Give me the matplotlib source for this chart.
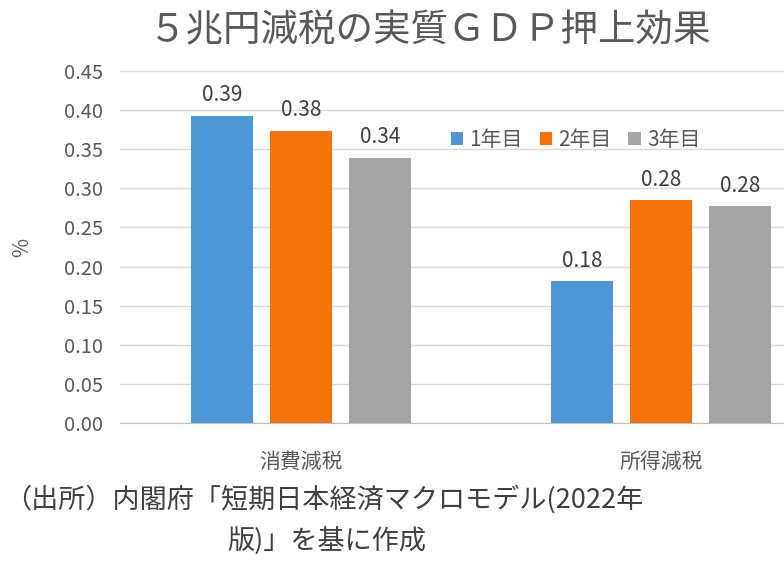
import matplotlib
matplotlib.use("Agg")
import matplotlib.pyplot as plt
import numpy as np

plt.rcParams["font.family"] = ["Noto Sans CJK JP"]

categories = ["消費減税", "所得減税"]
series_names = ["1年目", "2年目", "3年目"]
year1 = [0.393, 0.181]
year2 = [0.374, 0.285]
year3 = [0.339, 0.277]
labels1 = ["0.39", "0.18"]
labels2 = ["0.38", "0.28"]
labels3 = ["0.34", "0.28"]
colors = ["#4e97d6", "#f5720a", "#a5a5a5"]

fig = plt.figure(figsize=(7.84, 5.64), dpi=100)
ax = fig.add_axes([0.153, 0.25, 0.847, 0.624])
x = np.arange(len(categories))
w = 0.172
off = 0.219
for i, (vals, labs) in enumerate(zip([year1, year2, year3], [labels1, labels2, labels3])):
    bars = ax.bar(x + (i - 1) * off, vals, w, color=colors[i], label=series_names[i], zorder=3)
    for b, t in zip(bars, labs):
        ax.text(b.get_x() + b.get_width() / 2, b.get_height() + 0.012, t,
                ha="center", va="bottom", fontsize=15, color="#404040")

ax.set_xlim(-0.503, 1.341)
ax.set_ylim(0, 0.45)
ax.set_yticks(np.arange(0, 0.451, 0.05))
ax.set_yticklabels([f"{v:.2f}" for v in np.arange(0, 0.451, 0.05)], fontsize=14.5, color="#595959")
ax.set_xticks(x)
ax.set_xticklabels(categories, fontsize=15, color="#595959")
ax.tick_params(axis="y", length=0, pad=12)
ax.tick_params(axis="x", length=0, pad=20)
ax.grid(axis="y", color="#d9d9d9", lw=1, zorder=0)
for s in ["top", "right", "left"]:
    ax.spines[s].set_visible(False)
ax.spines["bottom"].set_color("#bfbfbf")
ax.set_ylabel("%", fontsize=15, color="#595959", labelpad=22)
ax.legend(loc="upper left", bbox_to_anchor=(0.47, 0.89), ncol=3, frameon=False,
          fontsize=15, handlelength=0.6, handleheight=0.6, columnspacing=0.8,
          handletextpad=0.3, labelcolor="#595959")

fig.text(0.548, 0.945, "５兆円減税の実質ＧＤＰ押上効果", ha="center", va="center",
         fontsize=27, color="#595959")
fig.text(0.005, 0.115, "（出所）内閣府「短期日本経済マクロモデル(2022年", ha="left", va="center",
         fontsize=19.5, color="#404040")
fig.text(0.29, 0.04, "版)」を基に作成", ha="left", va="center", fontsize=19.5, color="#404040")
fig.savefig("out.png", dpi=100)
